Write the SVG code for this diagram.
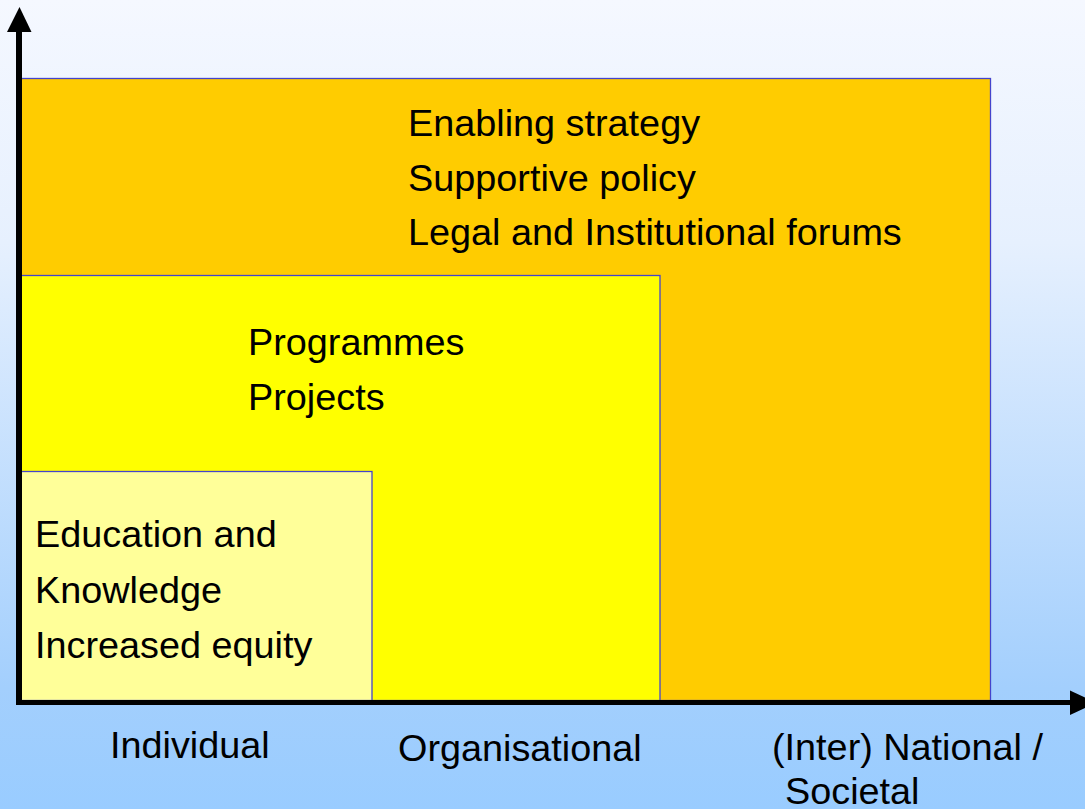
<svg xmlns="http://www.w3.org/2000/svg" width="1085" height="809" viewBox="0 0 1085 809">
  <defs>
    <linearGradient id="bg" x1="0" y1="0" x2="0" y2="1">
      <stop offset="0" stop-color="#f5f8ff"/>
      <stop offset="0.3" stop-color="#e6f0fe"/>
      <stop offset="0.85" stop-color="#a3cffd"/>
      <stop offset="1" stop-color="#99ccff"/>
    </linearGradient>
    <style>
      .box { stroke: #4444cc; stroke-width: 1.3; }
      .t { font-family: "Liberation Sans", Arial, sans-serif; font-size: 37.8px; fill: #000; }
      .axis { stroke: #000; fill: none; }
    </style>
  </defs>
  <rect x="0" y="0" width="1085" height="809" fill="url(#bg)"/>

  <g id="societal">
    <rect class="box" x="20.5" y="78.5" width="970" height="622" fill="#ffcc00"/>
    <text class="t" x="408" y="136">Enabling strategy</text>
    <text class="t" x="408" y="190.5">Supportive policy</text>
    <text class="t" x="408" y="245">Legal and Institutional forums</text>
  </g>

  <g id="organisational">
    <rect class="box" x="20.5" y="275.5" width="639.5" height="425" fill="#ffff00"/>
    <text class="t" x="248" y="355">Programmes</text>
    <text class="t" x="248" y="410">Projects</text>
  </g>

  <g id="individual">
    <rect class="box" x="20.5" y="471.5" width="351.5" height="229" fill="#ffff99"/>
    <text class="t" x="35" y="547">Education and</text>
    <text class="t" x="35" y="602.5">Knowledge</text>
    <text class="t" x="35" y="658">Increased equity</text>
  </g>

  <g id="axes">
    <line class="axis" x1="19" y1="30" x2="19" y2="705" stroke-width="6"/>
    <polygon points="19.5,7 7,32 31.5,32" fill="#000"/>
    <line class="axis" x1="16" y1="702.5" x2="1072" y2="702.5" stroke-width="5"/>
    <polygon points="1070,690.5 1070,715 1096,702.7" fill="#000"/>
  </g>

  <g id="labels">
    <text class="t" x="110" y="758">Individual</text>
    <text class="t" x="398" y="761">Organisational</text>
    <text class="t" x="772" y="760">(Inter) National /</text>
    <text class="t" x="785" y="804">Societal</text>
  </g>
</svg>
